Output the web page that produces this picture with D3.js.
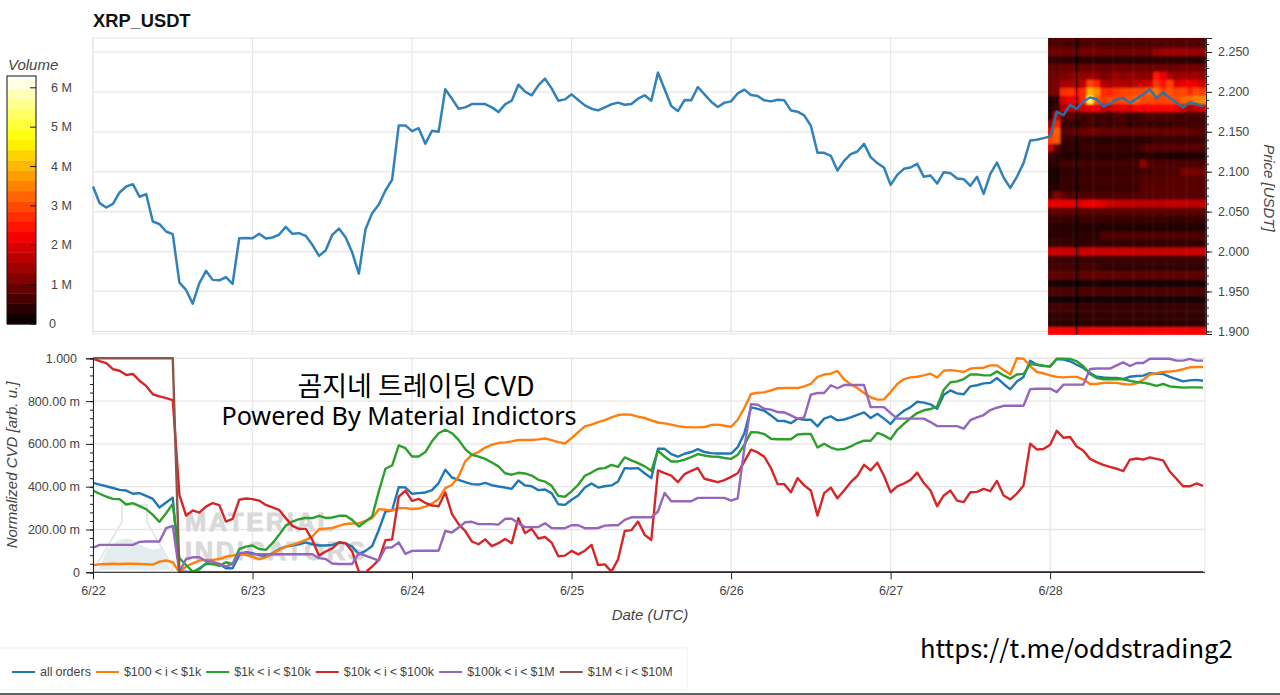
<!DOCTYPE html>
<html>
<head>
<meta charset="utf-8">
<style>
  html, body { margin: 0; padding: 0; background: #fff; overflow: hidden; }
  text { font-family: "Liberation Sans", sans-serif; }
</style>
<script src="https://d3js.org/d3.v7.min.js"></script>
</head>
<body>
<svg width="1280" height="695"></svg>
<script>
// hourly samples, one line per day, 6/22 00:00 onwards
var price = [
  2.0815,2.0606,2.0552,2.0598,2.074,2.0815,2.0844,2.0686,2.0719,2.0376,2.0343,2.0251,2.0217,1.9611,1.9519,1.9348,1.9603,1.9758,1.9645,1.964,1.9678,1.9594,2.0167,2.0171,
  2.0167,2.0222,2.0163,2.0176,2.0213,2.0309,2.0222,2.023,2.0197,2.0084,1.9946,2.0013,2.0209,2.0288,2.018,1.9987,1.9724,2.028,2.0481,2.0589,2.0765,2.0899,2.158,2.158,
  2.1509,2.1545,2.135,2.1513,2.15,2.2032,2.1915,2.1789,2.1806,2.1848,2.1848,2.1848,2.1806,2.1747,2.1844,2.189,2.209,2.2002,2.1957,2.2082,2.2166,2.2044,2.189,2.1906,
  2.1969,2.1898,2.1831,2.1789,2.1768,2.1806,2.1844,2.1865,2.1839,2.1848,2.1915,2.1957,2.189,2.2241,2.2032,2.1823,2.176,2.1898,2.1894,2.2061,2.1969,2.1877,2.181,2.1865,
  2.1881,2.1982,2.2028,2.1961,2.1948,2.1894,2.1881,2.1902,2.1894,2.1768,2.1752,2.1706,2.1576,2.1239,2.1237,2.1199,2.1015,2.1136,2.122,2.1253,2.1349,2.1182,2.1107,2.1053,
  2.0835,2.0961,2.1036,2.1053,2.1099,2.0936,2.0952,2.0852,2.0994,2.0982,2.0915,2.0906,2.0823,2.0936,2.0722,2.0973,2.1115,2.0927,2.0798,2.0936,2.1107,2.1391,2.14,2.1421,
  2.144,2.1753,2.1707,2.1837,2.1787,2.1879,2.1929,2.1908,2.182,2.1854,2.1908,2.1925,2.1862,2.1916,2.1971,2.2033,2.1925,2.1992,2.1925,2.1866,2.1804,2.187,2.185,2.1816
];

var allOrders = [
  .418,.410,.402,.394,.385,.382,.367,.370,.357,.343,.303,.326,.349,.003,.003,0,.019,.039,.039,.039,.019,.019,.081,.094,
  .089,.081,.076,.089,.108,.12,.125,.131,.14,.131,.125,.125,.128,.139,.136,.12,.084,.1,.123,.198,.284,.289,.398,.396,
  .367,.37,.373,.384,.417,.479,.443,.432,.421,.412,.41,.418,.407,.401,.396,.39,.429,.406,.402,.384,.387,.37,.318,.315,
  .339,.359,.396,.415,.396,.402,.406,.424,.487,.485,.487,.463,.44,.577,.577,.552,.54,.554,.562,.576,.562,.557,.555,.555,
  .555,.585,.65,.771,.764,.755,.733,.708,.707,.697,.718,.713,.713,.682,.718,.729,.71,.714,.724,.736,.747,.721,.741,.718,
  .693,.73,.755,.772,.797,.793,.785,.764,.83,.85,.836,.832,.869,.874,.883,.885,.908,.88,.855,.892,.913,.989,.97,.964,
  .963,.997,.994,.986,.97,.955,.931,.914,.91,.908,.908,.903,.914,.917,.919,.931,.927,.927,.913,.903,.892,.897,.899,.895
];
var orders100 = [
  .034,.037,.039,.04,.039,.04,.04,.039,.038,.036,.05,.055,.047,0,.027,.042,.055,.058,.058,.062,.073,.078,.086,.081,
  .073,.061,.07,.086,.105,.12,.128,.139,.151,.167,.201,.204,.207,.217,.226,.228,.23,.24,.253,.295,.292,.289,.3,.3,
  .296,.298,.307,.321,.343,.393,.408,.448,.518,.549,.562,.583,.596,.604,.607,.612,.618,.619,.618,.621,.626,.618,.608,.602,
  .627,.655,.682,.69,.702,.711,.724,.735,.738,.736,.727,.721,.71,.7,.696,.69,.683,.679,.677,.677,.679,.688,.69,.685,
  .68,.713,.768,.833,.839,.841,.85,.86,.861,.861,.861,.869,.88,.913,.924,.928,.941,.902,.878,.861,.838,.818,.807,.808,
  .842,.88,.902,.911,.914,.92,.928,.91,.942,.945,.941,.936,.952,.955,.956,.967,.967,.945,.924,1,.998,.963,.936,.93,
  .92,.913,.911,.913,.913,.902,.88,.88,.885,.886,.885,.88,.877,.883,.9,.924,.93,.936,.938,.942,.949,.958,.959,.959
];
var orders1k = [
  .382,.367,.354,.343,.342,.317,.323,.309,.295,.268,.236,.276,.32,.066,.034,.003,.014,.042,.039,.03,.047,.039,.108,.12,
  .125,.109,.105,.136,.175,.218,.237,.248,.254,.253,.264,.254,.256,.264,.264,.245,.214,.237,.261,.378,.484,.499,.593,.58,
  .541,.541,.562,.612,.65,.666,.65,.619,.576,.549,.541,.53,.513,.495,.463,.456,.465,.462,.452,.432,.424,.404,.357,.353,
  .378,.409,.451,.466,.484,.487,.502,.493,.537,.523,.51,.495,.474,.568,.541,.518,.518,.526,.538,.552,.546,.541,.54,.534,
  .53,.549,.596,.655,.654,.646,.624,.622,.622,.622,.644,.646,.646,.583,.601,.583,.573,.576,.588,.604,.615,.615,.651,.64,
  .622,.666,.694,.721,.744,.757,.763,.775,.853,.888,.892,.903,.924,.925,.92,.92,.939,.92,.905,.924,.927,.973,.97,.966,
  .961,.998,.998,.997,.986,.963,.927,.908,.902,.902,.903,.902,.895,.889,.886,.88,.871,.88,.869,.866,.863,.864,.864,.863
];
var orders10k = [
  .998,.987,.977,.949,.942,.922,.927,.895,.871,.832,.822,.814,.805,.362,.265,.289,.279,.307,.323,.314,.237,.25,.339,.345,
  .342,.335,.315,.303,.292,.253,.217,.203,.203,.151,.078,.097,.112,.14,.136,.097,.003,0,.027,.058,.15,.154,.354,.381,
  .334,.343,.324,.312,.309,.373,.273,.225,.193,.144,.131,.154,.122,.136,.156,.136,.253,.183,.203,.158,.165,.139,.075,.078,
  .1,.084,.101,.128,.034,.037,.003,.061,.193,.197,.237,.175,.151,.476,.463,.452,.421,.459,.474,.487,.437,.429,.421,.431,
  .446,.463,.518,.573,.56,.54,.487,.412,.412,.374,.44,.406,.382,.265,.37,.396,.346,.382,.421,.451,.502,.477,.512,.451,
  .374,.402,.415,.432,.466,.417,.382,.309,.359,.382,.335,.328,.374,.376,.39,.379,.427,.359,.34,.368,.406,.601,.574,.576,
  .596,.661,.629,.632,.588,.568,.53,.515,.502,.493,.484,.473,.526,.532,.527,.537,.53,.523,.471,.437,.402,.402,.415,.404
];
var orders100k = [
  .115,.128,.128,.128,.128,.128,.128,.142,.144,.144,.144,.206,.217,0,.062,.07,.07,.053,.05,.039,.027,.039,.089,.092,
  .084,.084,.084,.084,.084,.084,.084,.084,.084,.084,.066,.062,.041,.039,.039,.039,.089,.078,.066,.055,.115,.117,.14,.086,
  .1,.101,.101,.101,.101,.193,.186,.209,.234,.236,.225,.225,.225,.223,.25,.25,.229,.211,.211,.212,.229,.207,.206,.206,
  .22,.22,.206,.206,.207,.218,.22,.22,.245,.257,.257,.257,.257,.284,.371,.332,.332,.332,.332,.348,.348,.348,.348,.348,
  .335,.346,.58,.786,.783,.764,.76,.749,.747,.733,.718,.724,.83,.838,.838,.874,.86,.875,.875,.875,.875,.772,.772,.772,
  .744,.718,.718,.718,.718,.718,.702,.683,.683,.683,.683,.671,.711,.724,.735,.758,.769,.778,.778,.778,.778,.856,.858,.858,
  .858,.842,.877,.877,.877,.877,.95,.952,.952,.952,.967,.981,.964,.978,.978,.998,.998,.998,.998,.989,.989,.997,.989,.989
];
var orders1m = [
  1,1,1,1,1,1,1,1,1,1,1,1,1,0,0,0,0,0,0,0,0,0,0,0,
  0,0,0,0,0,0,0,0,0,0,0,0,0,0,0,0,0,0,0,0,0,0,0,0,
  0,0,0,0,0,0,0,0,0,0,0,0,0,0,0,0,0,0,0,0,0,0,0,0,
  0,0,0,0,0,0,0,0,0,0,0,0,0,0,0,0,0,0,0,0,0,0,0,0,
  0,0,0,0,0,0,0,0,0,0,0,0,0,0,0,0,0,0,0,0,0,0,0,0,
  0,0,0,0,0,0,0,0,0,0,0,0,0,0,0,0,0,0,0,0,0,0,0,0,
  0,0,0,0,0,0,0,0,0,0,0,0,0,0,0,0,0,0,0,0,0,0,0,0
];

var seriesNames = ['all orders', '$100 < i < $1k', '$1k < i < $10k', '$10k < i < $100k', '$100k < i < $1M', '$1M < i < $10M'];
var seriesValues = [allOrders, orders100, orders1k, orders10k, orders100k, orders1m];
var seriesColors = ['#1f77b4', '#ff7f0e', '#2ca02c', '#d62728', '#9467bd', '#8c564b'];

var dayHours = [0, 24, 48, 72, 96, 120, 144];
var dayLabels = ['6/22', '6/23', '6/24', '6/25', '6/26', '6/27', '6/28'];
var priceTicks = [1.9, 1.95, 2.0, 2.05, 2.1, 2.15, 2.2, 2.25];
var cvdTicks = [0, .2, .4, .6, .8, 1];
var cvdLabels = ['0', '200.00 m', '400.00 m', '600.00 m', '800.00 m', '1.000'];
var volumeTicks = [0, 1, 2, 3, 4, 5, 6];
var volumeLabels = ['0', '1 M', '2 M', '3 M', '4 M', '5 M', '6 M'];

// volume profile, in millions, one row per price bin and one value per hour of 6/28
var heatHours = [144,145,146,147,148,149,150,151,152,153,154,155,156,157,158,159,160,161,162,163,164,165,166,167];
var heatPrices = [2.27,2.26,2.25,2.24,2.23,2.22,2.21,2.2,2.19,2.18,2.17,2.16,2.15,2.14,2.13,2.12,2.11,2.1,2.09,2.08,2.07,2.06,2.05,2.04,2.03,2.02,2.01,2,1.99,1.98,1.97,1.96,1.95,1.94,1.93,1.92,1.91,1.9];
var heatRows = [
  [.75,.75,.8,.8,.6,.8,.8,.8,.75,.75,.75,.75,.75,.75,.75,.75,.8,.8,.8,.8,.75,.75,.75,.75],
  [.7,.7,.7,.65,.55,.7,.75,.75,.7,.7,.7,.7,.7,.7,.7,.7,.75,.75,.75,.75,.75,.75,.7,.7],
  [1,1,1,1,.85,1.05,1.05,1.05,1,1,1,1,1,1,1,1,1.3,1.4,1.4,1.4,1.4,1.35,1.3,1.3],
  [.45,.45,.4,.4,.3,.4,.4,.4,.4,.4,.4,.4,.4,.4,.4,.4,.4,.4,.4,.4,.4,.4,.4,.4],
  [.9,.9,.95,1,.8,1,.95,1,.9,.95,1,1,.95,1,1,.95,1,1,.95,1,1,1.05,1.05,1],
  [1,1,1.1,1.2,1.3,1.3,1.4,1.3,1.1,1.2,1.4,1.2,1.4,1.3,1.2,1.3,2.5,2.1,1.6,1.4,1.5,1.4,1.5,1.3],
  [1,1.1,1.5,1.5,1.4,1.7,2.9,2.6,1.6,1.5,1.6,1.6,1.5,1.7,1.8,1.9,2.8,2.4,2.9,2,2.1,2.2,2.1,1.8],
  [1,1.1,2.7,2.8,2.4,2.7,4,3.6,2.7,2.6,2.8,2.9,2.9,3,3,3.2,3.4,2.9,3.1,2.9,3,2.7,3,2.8],
  [.3,.4,2,2.2,2.1,2.7,5.2,3.2,2.8,3,2.9,3,3.1,3.2,3,3,2.9,2.9,3,3,3.2,3.3,3.5,3.6],
  [.35,.5,1.6,1.8,1.8,2,2.2,2.2,1.8,1.8,2,2.1,2,2.3,2.2,2.3,2.3,2.3,2.3,2.2,1.9,1.6,1.8,2],
  [.4,1.9,.8,.8,.7,.5,.7,.6,.6,.5,.7,.7,.5,.5,.6,.7,.7,.7,.7,.6,.6,.6,.6,.6],
  [1.3,2.6,.5,.5,.4,.5,.7,.5,.6,.5,.6,.7,.4,.5,.6,.5,.6,.5,.5,.6,.6,.5,.6,.6],
  [2.2,3.2,.8,.8,.9,.9,1,1,.9,.9,.9,.9,.9,.9,.9,.9,.9,.9,.9,.9,.9,.9,.8,.8],
  [2.9,3.1,.5,.45,.4,.45,.4,.4,.35,.35,.4,.4,.4,.4,.4,.4,.5,.5,.5,.5,.5,.5,.5,.5],
  [1.8,.8,.4,.45,.4,.5,.55,.5,.5,.5,.5,.5,.5,.5,.7,.8,.8,.8,.8,.8,.8,.8,.8,.8],
  [.5,.4,.35,.3,.3,.4,.4,.4,.35,.35,.4,.4,.4,.35,.35,.35,.3,.3,.25,.25,.25,.25,.3,.3],
  [.4,.4,.6,.6,.6,.6,.6,.6,.6,.6,.6,.6,.6,.6,1.3,.7,.7,.7,.7,.7,.7,.7,.7,.7],
  [.2,.2,.4,.45,.4,.5,.5,.5,.5,.5,.5,.5,.5,.5,.6,.6,.7,.7,.7,.7,1,1.1,1.1,1],
  [.25,.25,.5,.5,.5,.55,.6,.6,.6,.6,.6,.6,.6,.6,.75,.75,.75,.75,.8,.8,.8,.8,.8,.8],
  [.35,.35,.45,.45,.4,.5,.5,.5,.5,.5,.5,.5,.5,.55,.8,.8,.8,.8,.8,.8,.8,.8,.8,.8],
  [.6,1.2,.9,.7,.7,.7,.7,.7,.7,.7,.7,.7,.7,.75,.8,.8,.8,.8,.8,.8,.8,.8,.8,.8],
  [2.1,2.1,2.1,2.1,1.8,2.1,2.15,2.15,2,1.8,1.75,1.75,1.75,1.7,1.7,1.7,1.7,1.7,1.75,1.75,1.75,1.7,1.7,1.75],
  [.8,.8,.8,.8,.7,.8,.8,.8,.8,.8,.8,.8,.8,.8,.8,.8,.8,.8,.8,.8,.8,.8,.8,.8],
  [.5,.5,.5,.5,.4,.55,.55,.55,.5,.5,.5,.5,.5,.5,.5,.5,.5,.5,.45,.45,.45,.5,.5,.5],
  [.35,.35,.35,.35,.3,.3,.3,.3,.3,.3,.3,.3,.3,.3,.3,.3,.3,.3,.3,.3,.3,.3,.3,.3],
  [.4,.4,.4,.4,.35,.4,.4,.4,.7,.7,.7,.7,.7,.7,.7,.7,.7,.7,.7,.7,.7,.7,.7,.7],
  [.5,.5,.5,.5,.4,.45,.45,.45,.45,.45,.45,.45,.45,.45,.45,.45,.45,.45,.45,.45,.45,.45,.45,.45],
  [1.85,1.85,1.85,1.85,1.5,1.85,1.85,1.85,1.85,1.85,1.85,1.85,1.85,1.8,1.8,1.8,1.8,1.8,1.8,1.8,1.8,1.85,1.85,1.85],
  [.55,.55,.55,.55,.45,.55,.55,.5,.5,.5,.5,.5,.5,.5,.5,.5,.5,.5,.5,.5,.5,.5,.5,.5],
  [.6,.6,.6,.6,.45,.6,.6,.6,.45,.45,.45,.45,.45,.45,.45,.45,.45,.45,.45,.45,.45,.45,.45,.45],
  [.85,.85,.85,.85,.7,.9,.9,.9,.9,.85,.85,.85,.85,.85,.85,.85,.85,.85,.85,.85,.85,.85,.85,.85],
  [.2,.2,.2,.2,.15,.2,.25,.25,.2,.2,.2,.2,.2,.2,.2,.2,.2,.2,.2,.2,.2,.2,.2,.2],
  [.7,.7,.7,.7,.55,.7,.7,.7,.7,.7,.7,.7,.7,.7,.7,.7,.7,.7,.7,.7,.7,.7,.7,.7],
  [.2,.2,.2,.2,.15,.2,.2,.2,.2,.2,.2,.2,.2,.2,.2,.2,.2,.2,.2,.2,.2,.2,.2,.2],
  [.55,.6,.6,.6,.45,.55,.55,.5,.5,.5,.5,.5,.5,.5,.5,.5,.5,.5,.5,.5,.5,.5,.5,.5],
  [.45,.45,.45,.45,.35,.45,.45,.45,.45,.45,.45,.45,.45,.45,.45,.45,.45,.45,.45,.45,.45,.45,.45,.45],
  [.4,.4,.4,.4,.3,.4,.4,.4,.4,.4,.4,.4,.4,.4,.4,.4,.4,.4,.4,.4,.4,.4,.4,.4],
  [2.3,2.3,2.3,2.3,2,2.3,2.3,2.3,2.3,2.3,2.3,2.3,2.3,2.3,2.3,2.3,2.3,2.3,2.3,2.3,2.3,2.2,2.2,2.25]
];

var hotStops = [0, 2.3, 4.7, 6.3];
var hotColors = ['#000000', '#ff0000', '#ffff00', '#ffffff'];

var svg = d3.select('svg');
var tickColor = '#444';
var gridColor = '#e6e6e6';

var x = d3.scaleLinear().domain([0, 167.3]).range([93, 1205]);
var yPrice = d3.scaleLinear().domain([1.8967, 2.2675]).range([334, 38]);
var yCvd = d3.scaleLinear().domain([0, 1]).range([572.3, 358.3]);
var hot = d3.scaleLinear().domain(hotStops).range(hotColors);
var yBar = d3.scaleLinear().domain([0, 6.3]).range([324, 76]);

var createGrid = function (top, bottom, yScale, yTicks) {
  svg.append('rect')
    .attr('x', x.range()[0]).attr('y', top)
    .attr('width', x.range()[1] - x.range()[0]).attr('height', bottom - top)
    .attr('fill', 'none').attr('stroke', gridColor);
  svg.selectAll(null).data(dayHours).enter().append('line')
    .attr('x1', x).attr('x2', x).attr('y1', top).attr('y2', bottom)
    .attr('stroke', gridColor).attr('stroke-width', 1.3);
  svg.selectAll(null).data(yTicks).enter().append('line')
    .attr('x1', x.range()[0]).attr('x2', x.range()[1])
    .attr('y1', yScale).attr('y2', yScale)
    .attr('stroke', gridColor).attr('stroke-width', 1.3);
};

var styleAxis = function (g) {
  g.selectAll('.tick text').attr('fill', tickColor).style('font-size', '12.5px');
  g.selectAll('line, path').attr('stroke', '#222');
  return g;
};

// title
svg.append('text').attr('x', 93).attr('y', 27)
  .attr('font-size', 18.3).attr('font-weight', 'bold').attr('fill', '#111')
  .text('XRP_USDT');

// ---- price panel
createGrid(38, 334, yPrice, priceTicks);

var defs = svg.append('defs');
defs.append('filter').attr('id', 'heat-blur')
  .append('feGaussianBlur').attr('stdDeviation', .8);
defs.append('clipPath').attr('id', 'heat-clip').append('rect')
  .attr('x', 1048).attr('y', 38).attr('width', 158).attr('height', 297);

var heatClip = svg.append('g').attr('clip-path', 'url(#heat-clip)');
var heat = heatClip.append('g').attr('filter', 'url(#heat-blur)');
heatRows.forEach(function (row, r) {
  heat.selectAll(null).data(row).enter().append('rect')
    .attr('x', function (d, i) { return x(heatHours[i] - .5); })
    .attr('y', yPrice(heatPrices[r] + .005))
    .attr('width', x(1) - x(0) + .4)
    .attr('height', yPrice(heatPrices[r] - .005) - yPrice(heatPrices[r] + .005) + .4)
    .attr('fill', function (d) { return hot(d); });
});
heatClip.append('line')
  .attr('x1', x(148)).attr('x2', x(148)).attr('y1', 38).attr('y2', 335)
  .attr('stroke', '#000').attr('stroke-opacity', .65);

svg.append('path').datum(price)
  .attr('fill', 'none').attr('stroke', seriesColors[0]).attr('stroke-opacity', .92).attr('stroke-width', 2.5)
  .attr('stroke-linejoin', 'round')
  .attr('d', d3.line().x(function (d, i) { return x(i); }).y(yPrice));

var priceAxisX = 1206;
styleAxis(svg.append('g').attr('transform', 'translate(' + priceAxisX + ',0)')
  .call(d3.axisRight(yPrice).tickValues(d3.range(1.9, 2.265, .01)).tickSize(3).tickFormat('')));
styleAxis(svg.append('g').attr('transform', 'translate(' + priceAxisX + ',0)')
  .call(d3.axisRight(yPrice).tickValues(priceTicks).tickSize(6).tickPadding(6).tickFormat(d3.format('.3f'))));

svg.append('text')
  .attr('transform', 'translate(1264,188) rotate(90)')
  .attr('text-anchor', 'middle').attr('font-size', 15).attr('font-style', 'italic').attr('fill', tickColor)
  .text('Price [USDT]');

// ---- volume colour bar
svg.append('text').attr('x', 8).attr('y', 70)
  .attr('font-size', 15).attr('font-style', 'italic').attr('fill', tickColor).text('Volume');
var barBands = d3.range(0, 6.3, .26);
svg.selectAll(null).data(barBands).enter().append('rect')
  .attr('x', 7).attr('width', 29)
  .attr('y', function (d) { return yBar(Math.min(d + .26, 6.3)); })
  .attr('height', function (d) { return yBar(d) - yBar(Math.min(d + .26, 6.3)) + .4; })
  .attr('fill', function (d) { return hot(d + .13); });
svg.append('rect').attr('x', 7).attr('y', 76).attr('width', 29).attr('height', 248)
  .attr('fill', 'none').attr('stroke', '#111');
svg.selectAll(null).data(volumeTicks).enter().append('line')
  .attr('x1', 30).attr('x2', 36).attr('y1', yBar).attr('y2', yBar)
  .attr('stroke', '#111');
svg.selectAll(null).data(volumeTicks).enter().append('text')
  .attr('x', function (d) { return d === 0 ? 49 : 51; })
  .attr('y', function (d) { return yBar(d) + 4; })
  .attr('font-size', 12.5).attr('fill', tickColor)
  .text(function (d, i) { return volumeLabels[i]; });

// ---- cvd panel
createGrid(358.3, 572.3, yCvd, cvdTicks);

// faint watermark behind the lines
var mark = svg.append('g').attr('fill', '#d9d9d9').attr('font-weight', 'bold');
mark.append('path')
  .attr('d', 'M122 505 L122 522 L96 566 Q94 572 100 572 L168 572 Q174 572 172 566 L147 522 L147 505 Z')
  .attr('fill', 'none').attr('stroke', '#e8e8e8').attr('stroke-width', 2);
mark.append('path')
  .attr('d', 'M107 550 Q122 532 136 542 Q150 552 162 548 L170 570 L98 570 Z')
  .attr('fill', '#e4eded');
mark.selectAll('text').data(['MATERIAL', 'INDICATORS']).enter().append('text')
  .attr('x', 185).attr('y', function (d, i) { return 531 + i * 29; })
  .attr('font-size', 25.5).attr('letter-spacing', 2.6)
  .attr('stroke', '#d9d9d9').attr('stroke-width', .9)
  .text(function (d) { return d; });

svg.append('clipPath').attr('id', 'cvd-clip').append('rect')
  .attr('x', 93).attr('y', 357).attr('width', 1112).attr('height', 216);

var cvdLine = d3.line().x(function (d, i) { return x(i); }).y(yCvd);
svg.append('g').attr('clip-path', 'url(#cvd-clip)')
  .selectAll('path').data(seriesValues).enter().append('path')
  .attr('fill', 'none').attr('stroke-width', 2.4).attr('stroke-linejoin', 'round')
  .attr('stroke', function (d, i) { return seriesColors[i]; })
  .attr('d', cvdLine);

styleAxis(svg.append('g').attr('transform', 'translate(93,0)')
  .call(d3.axisLeft(yCvd).tickValues(d3.range(0, 1.001, .04)).tickSize(3).tickFormat('')));
var cvdAxis = styleAxis(svg.append('g').attr('transform', 'translate(93,0)')
  .call(d3.axisLeft(yCvd).tickValues(cvdTicks).tickSize(7).tickPadding(6)
    .tickFormat(function (d, i) { return cvdLabels[i]; })));
cvdAxis.selectAll('.tick text').filter(function (d) { return d === 1; }).attr('dx', -3);

styleAxis(svg.append('g').attr('transform', 'translate(0,572.3)')
  .call(d3.axisBottom(x).tickValues(dayHours).tickSize(7).tickPadding(7)
    .tickFormat(function (d, i) { return dayLabels[i]; })))
  .selectAll('.domain').attr('d', 'M93,0H1205');

svg.append('text')
  .attr('transform', 'translate(17,465) rotate(-90)')
  .attr('text-anchor', 'middle').attr('font-size', 15).attr('font-style', 'italic').attr('fill', tickColor)
  .text('Normalized CVD [arb. u.]');
svg.append('text').attr('x', 650).attr('y', 620)
  .attr('text-anchor', 'middle').attr('font-size', 15).attr('font-style', 'italic').attr('fill', tickColor)
  .text('Date (UTC)');

// pasted captions
var captionFont = '"Noto Sans CJK KR", "Noto Sans", sans-serif';
svg.append('text').attr('x', 416).attr('y', 396).attr('text-anchor', 'middle')
  .style('font-family', captionFont).attr('font-size', 27).attr('fill', '#000').text('곰지네 트레이딩 CVD');
svg.append('text').attr('x', 399).attr('y', 425).attr('text-anchor', 'middle')
  .style('font-family', '"Noto Sans", sans-serif').attr('font-size', 25.2).attr('fill', '#000').text('Powered By Material Indictors');
svg.append('text').attr('x', 920).attr('y', 658)
  .style('font-family', captionFont).attr('font-size', 25.6).attr('fill', '#000').text('https://t.me/oddstrading2');

// ---- legend
svg.append('rect').attr('x', -1).attr('y', 648).attr('width', 688).attr('height', 42)
  .attr('fill', '#fff').attr('stroke', '#f0f0f0');
var legendX = 12;
seriesNames.forEach(function (name, i) {
  svg.append('line').attr('x1', legendX).attr('x2', legendX + 23).attr('y1', 672).attr('y2', 672)
    .attr('stroke', seriesColors[i]).attr('stroke-width', 2);
  var label = svg.append('text').attr('x', legendX + 28).attr('y', 676)
    .attr('font-size', 12.5).attr('word-spacing', -.5).attr('fill', tickColor).text(name);
  legendX += 28 + label.node().getComputedTextLength() + 5;
});

// window edge at the bottom of the screenshot
svg.append('rect').attr('x', 0).attr('y', 693).attr('width', 1280).attr('height', 2).attr('fill', '#5c6468');
</script>
</body>
</html>
